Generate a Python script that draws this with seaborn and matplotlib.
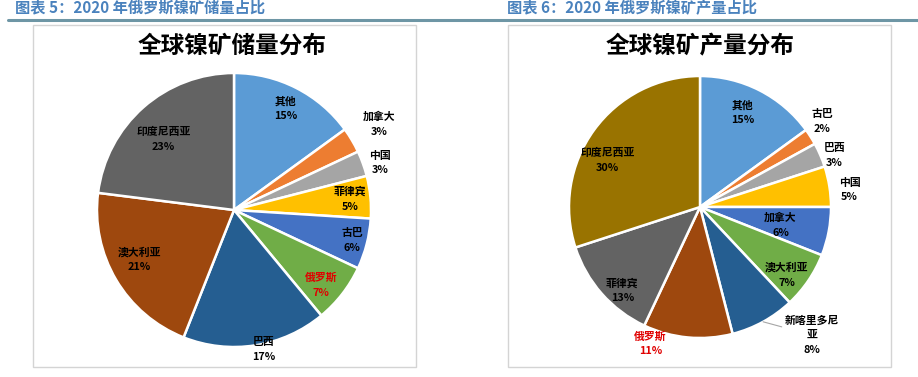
import numpy as np
import matplotlib
matplotlib.use('Agg')
import matplotlib.pyplot as plt
from matplotlib.patches import Rectangle
import seaborn as sns

# reserves share (chart 5)
res_names = ['其他', '加拿大', '中国', '菲律宾', '古巴', '俄罗斯', '巴西', '澳大利亚', '印度尼西亚']
res_pct = [15, 3, 3, 5, 6, 7, 17, 21, 23]
# production share (chart 6)
prod_names = ['其他', '古巴', '巴西', '中国', '加拿大', '澳大利亚', '新喀里多尼亚', '俄罗斯', '菲律宾', '印度尼西亚']
prod_pct = [15, 2, 3, 5, 6, 7, 8, 11, 13, 30]

res_colors = ['#5B9BD5', '#ED7D31', '#A5A5A5', '#FFC000', '#4472C4', '#70AD47',
              '#255E91', '#9E480E', '#636363']
prod_colors = ['#5B9BD5', '#ED7D31', '#A5A5A5', '#FFC000', '#4472C4', '#70AD47',
               '#255E91', '#9E480E', '#636363', '#997300']

# label placement: radius (fraction of pie radius) and angle nudge in degrees
res_lab_r = [0.83, 1.23, 1.12, 0.85, 0.89, 0.84, 1.04, 0.78, 0.73]
res_lab_dt = [0, 0, -2, 0, 0, -3, 3, -3, 3.6]
prod_lab_r = [0.79, 1.14, 1.10, 1.15, 0.63, 0.84, 1.30, 1.11, 0.87, 0.79]
prod_lab_dt = [2.6, 2.6, -2.4, -2.5, -2, -4, 12.4, -14.6, 5.6, 9]

sns.set_theme(style='white')
plt.rcParams['font.family'] = ['Noto Sans CJK SC', 'DejaVu Sans']
plt.rcParams['axes.unicode_minus'] = False

W, H = 918, 377
fig = plt.figure(figsize=(W / 100, H / 100), dpi=100)
fig.patch.set_facecolor('white')

header_color = '#4a82bd'
fig.text(15 / W, 1 - 8 / H, '图表 5：2020 年俄罗斯镍矿储量占比', fontsize=11, fontweight='bold',
         color=header_color, va='center', ha='left')
fig.text(507 / W, 1 - 8 / H, '图表 6：2020 年俄罗斯镍矿产量占比', fontsize=11, fontweight='bold',
         color=header_color, va='center', ha='left')
fig.add_artist(plt.Line2D([8 / W, 1.0], [1 - 20 / H, 1 - 20 / H], color='#6e96a5', lw=2.2))

for bx in (33, 508):
    fig.add_artist(Rectangle((bx / W, 10 / H), 383 / W, 342 / H, transform=fig.transFigure,
                             facecolor='white', edgecolor='#d4d4d4', lw=1, zorder=0))

fig.text(232 / W, 1 - 46 / H, '全球镍矿储量分布', fontsize=17, fontweight='bold',
         color='black', ha='center', va='center')
fig.text(700 / W, 1 - 46 / H, '全球镍矿产量分布', fontsize=17, fontweight='bold',
         color='black', ha='center', va='center')


def draw_pie(cx, cy, r, names, pct, colors, lab_r, lab_dt):
    half = 160
    ax = fig.add_axes([(cx - half) / W, (H - cy - half) / H, 2 * half / W, 2 * half / H])
    lim = half / r
    wedges, _ = ax.pie(pct, colors=colors, startangle=90, counterclock=False, radius=1,
                       wedgeprops=dict(edgecolor='white', linewidth=1.8))
    ax.set_xlim(-lim, lim)
    ax.set_ylim(-lim, lim)
    ax.set_aspect('equal')
    ax.axis('off')
    for w, name, p, lr, dt in zip(wedges, names, pct, lab_r, lab_dt):
        mid = 0.5 * (w.theta1 + w.theta2)
        ang = np.deg2rad(mid + dt)
        tx, ty = lr * np.cos(ang), lr * np.sin(ang)
        label = name if len(name) <= 5 else name[:5] + '\n' + name[5:]
        color = '#e00000' if name == '俄罗斯' else 'black'
        if lr > 1.25:
            m = np.deg2rad(mid)
            ax.annotate(f'{label}\n{p}%', xy=(np.cos(m), np.sin(m)), xytext=(tx, ty),
                        ha='center', va='center', fontsize=7.8, fontweight='bold',
                        color=color, linespacing=1.6, annotation_clip=False,
                        arrowprops=dict(arrowstyle='-', color='#a6a6a6', lw=0.8,
                                        shrinkA=0, shrinkB=0))
        else:
            ax.text(tx, ty, f'{label}\n{p}%', ha='center', va='center', fontsize=7.8,
                    fontweight='bold', color=color, linespacing=1.6, clip_on=False)
    return ax


draw_pie(234, 210, 137, res_names, res_pct, res_colors, res_lab_r, res_lab_dt)
draw_pie(700, 207, 131, prod_names, prod_pct, prod_colors, prod_lab_r, prod_lab_dt)

fig.savefig('out.png', dpi=100, facecolor='white')
